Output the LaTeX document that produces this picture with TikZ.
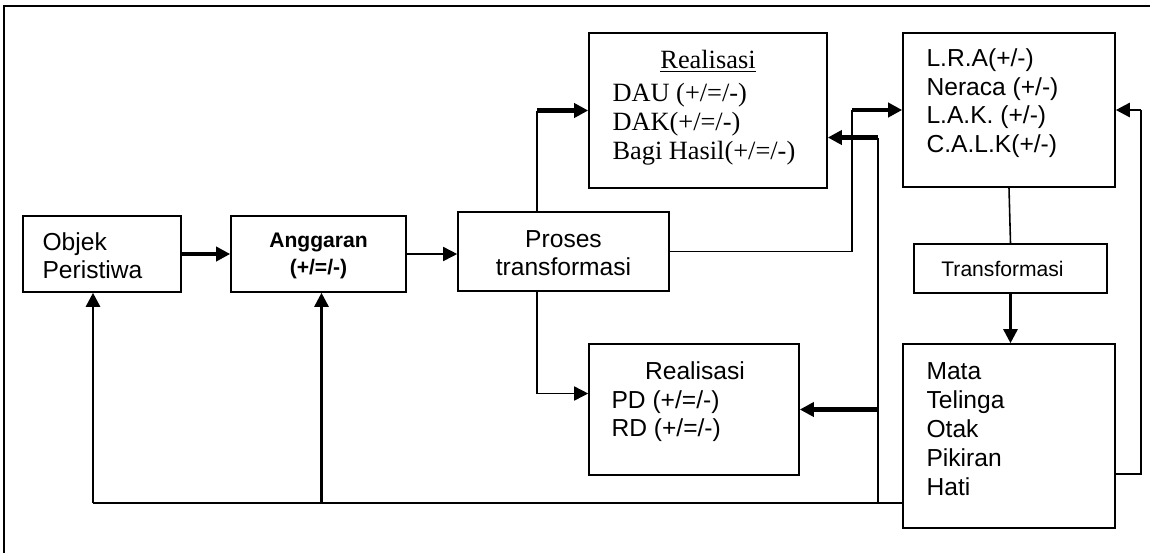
\documentclass[tikz,border=0pt]{standalone}
\usepackage{fontspec}
\setmainfont{Liberation Sans}
\newfontfamily\serifTNR{Liberation Serif}
\usetikzlibrary{arrows.meta,fit,calc}

\begin{document}
\begin{tikzpicture}[x=0.02cm, y=-0.02cm, line join=miter,
    kotak/.style={draw, line width=0.9pt, inner sep=0pt},
    teks/.style={inner sep=0pt, font=\fontsize{14}{16}\selectfont},
    tipis/.style={line width=0.9pt},
    sedang/.style={line width=1.5pt},
    tebal/.style={line width=2.4pt},
    panah/.style={-{Triangle[length=8pt,width=8pt]}}]

\useasboundingbox (0,0) rectangle (1150,552);

% Bingkai
\draw[line width=1.2pt] (4,570) -- (4,6) -- (1170,6);

% Kotak
\node[kotak, fit={(23,216) (181,292)}] (objek) {};
\node[kotak, fit={(231,216) (406,292)}] (anggaran) {};
\node[kotak, fit={(458,212) (669,291)}] (proses) {};
\node[kotak, fit={(589,33) (827,188)}] (realatas) {};
\node[kotak, fit={(589,344) (799,475)}] (realbawah) {};
\node[kotak, fit={(903,33) (1115,187)}] (lra) {};
\node[kotak, fit={(914,244) (1107,293)}] (transf) {};
\node[kotak, fit={(903,344) (1115,528)}] (mata) {};

% Teks (base = garis dasar baris terakhir)
\node[teks, anchor=base west, align=left] (objekteks) at ($(objek.north west)+(20,63)$) {Objek\\Peristiwa};
\node[teks, font=\bfseries\fontsize{12}{15.3}\selectfont, anchor=base, align=center] (anggaranteks) at ($(anggaran.north)+(0,59)$) {Anggaran\\(+/=/-)};
\node[teks, anchor=base, align=center] (prosesteks) at ($(proses.north)+(0,64)$) {Proses\\transformasi};
\node[teks, font=\serifTNR\fontsize{15}{16.4}\selectfont, anchor=base] (judulatas) at ($(realatas.north)+(0,36)$) {\underline{Realisasi}};
\node[teks, font=\serifTNR\fontsize{15}{16.4}\selectfont, anchor=base west, align=left] (danaatas) at ($(realatas.north west)+(24,127)$) {DAU (+/=/-)\\DAK(+/=/-)\\Bagi Hasil(+/=/-)};
\node[teks, font=\fontsize{14}{16.2}\selectfont, anchor=base west, align=left] (lrateks) at ($(lra.north west)+(24,120)$) {L.R.A(+/-)\\Neraca (+/-)\\L.A.K. (+/-)\\C.A.L.K(+/-)};
\node[teks, font=\fontsize{12}{14}\selectfont] (transfteks) at ($(transf.center)+(-8,0)$) {Transformasi};
\node[teks, anchor=base] (judulbawah) at ($(realbawah.north)+(1,36)$) {Realisasi};
\node[teks, anchor=base west, align=left] (danabawah) at ($(realbawah.north west)+(23,93)$) {PD (+/=/-)\\RD (+/=/-)};
\node[teks, font=\fontsize{14}{16.4}\selectfont, anchor=base west, align=left] (mateks) at ($(mata.north west)+(24,152)$) {Mata\\Telinga\\Otak\\Pikiran\\Hati};

% Titik belok
\coordinate (p1) at ($(proses.north west)+(80,0)$);
\coordinate (p2) at ($(proses.south west)+(80,0)$);
\coordinate (k1) at ($(lra.west)+(-50,0)$);
\coordinate (k2) at ($(realatas.east)+(50,27)$);
\coordinate (k3) at ($(lra.east)+(25,0)$);
\coordinate (bawah) at ($(mata.south west)+(0,-26)$);
\coordinate (f1) at ($(objek.south)+(-9,0)$);
\coordinate (f2) at ($(anggaran.south)+(3,0)$);

% Alur utama
\draw[tebal, panah] (objek.east) -- (anggaran.west);
\draw[tipis, panah] (anggaran.east) -- (anggaran.east -| proses.west);
\draw[tipis] (p1) -- (p1 |- realatas.west);
\draw[tebal, panah] (p1 |- realatas.west) -- (realatas.west);
\draw[tipis, panah] (p2) |- ($(realbawah.west)+(0,-16)$);
\draw[tipis] (proses.east) -| (k1);
\draw[tebal, panah] (k1) -- (lra.west);
\draw[tipis] (lra.south) -- (transf.north);
\draw[sedang, panah] (transf.south) -- (transf.south |- mata.north);

% Umpan balik
\draw[tipis] ($(mata.east)+(0,38)$) -| (k3);
\draw[sedang, panah] (k3) -- (lra.east);
\draw[tipis] (bawah) -- (bawah -| f1);
\draw[sedang, panah] (bawah -| f1) -- (f1);
\draw[sedang, panah] (bawah -| f2) -- (f2);
\draw[tipis] (k2 |- bawah) -- (k2);
\draw[tebal, panah] (k2) -- (k2 -| realatas.east);
\draw[tebal, panah] (realbawah.east -| k2) -- (realbawah.east);

\end{tikzpicture}
\end{document}
